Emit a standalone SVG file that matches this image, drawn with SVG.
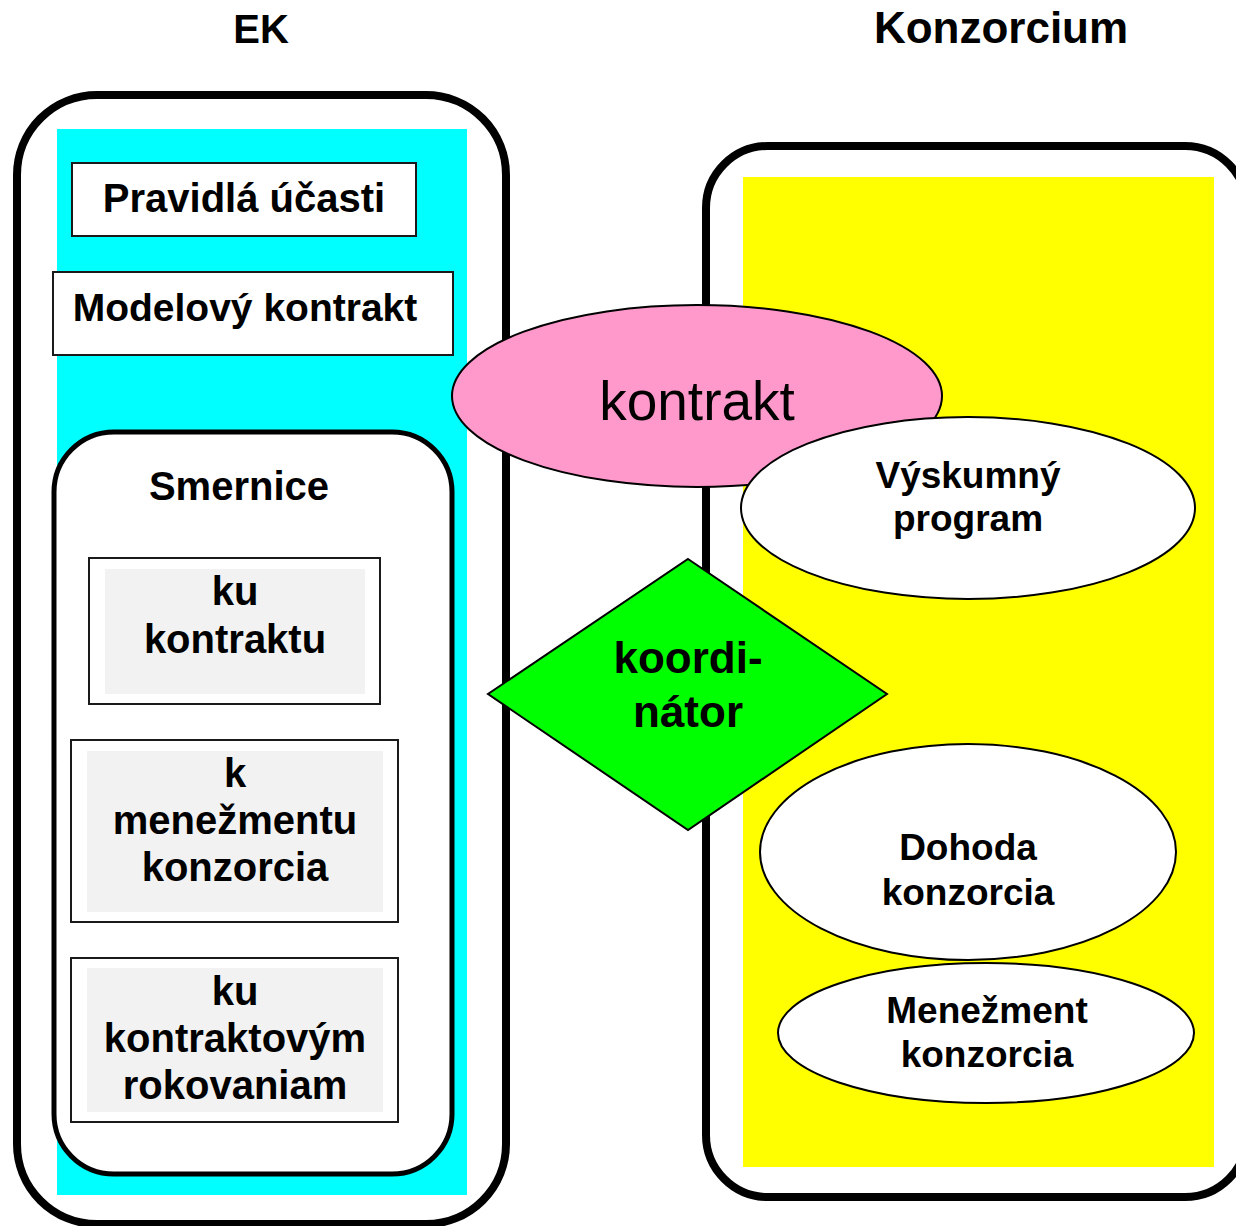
<svg xmlns="http://www.w3.org/2000/svg" width="1236" height="1226" viewBox="0 0 1236 1226">
<style>
text{font-family:"Liberation Sans",Arial,sans-serif;fill:#000;text-anchor:middle}
.b{font-weight:bold}
.t40{font-size:40px}
.t37{font-size:37px}
.t44{font-size:44px}
.cont{fill:#fff;stroke:#000;stroke-width:8}
.box{fill:#fff;stroke:#1a1a1a;stroke-width:2}
.inner{fill:#f2f2f2}
.ell{stroke:#000;stroke-width:2}
</style>
<rect width="1236" height="1226" fill="#fff"/>
<g id="title-ek"><text class="b t40" x="261" y="43">EK</text></g>
<g id="title-konzorcium"><text class="b t44" x="1001" y="43">Konzorcium</text></g>

<g id="ek">
<rect class="cont" x="17" y="95" width="489" height="1129" rx="80"/>
<rect x="57" y="129" width="410" height="1066" fill="#00ffff"/>
</g>
<g id="pravidla">
<rect class="box" x="72" y="163" width="344" height="73"/>
<text class="b t40" x="244" y="212">Pravidlá účasti</text>
</g>
<g id="modelovy">
<rect class="box" x="53" y="272" width="400" height="83"/>
<text class="b" font-size="39" x="245" y="321">Modelový kontrakt</text>
</g>
<g id="smernice">
<rect fill="#fff" stroke="#000" stroke-width="5" x="54" y="432" width="398" height="742" rx="60"/>
<text class="b t40" x="239" y="500">Smernice</text>
</g>
<g id="ku-kontraktu">
<rect class="box" x="89" y="558" width="291" height="146"/>
<rect class="inner" x="105" y="569" width="260" height="125"/>
<text class="b t40" x="235" y="605">ku<tspan x="235" dy="48">kontraktu</tspan></text>
</g>
<g id="k-menezmentu">
<rect class="box" x="71" y="740" width="327" height="182"/>
<rect class="inner" x="87" y="751" width="296" height="161"/>
<text class="b t40" x="235" y="787">k<tspan x="235" dy="47">menežmentu</tspan><tspan x="235" dy="47">konzorcia</tspan></text>
</g>
<g id="ku-rokovaniam">
<rect class="box" x="71" y="958" width="327" height="164"/>
<rect class="inner" x="87" y="968" width="296" height="144"/>
<text class="b t40" x="235" y="1005">ku<tspan x="235" dy="47">kontraktovým</tspan><tspan x="235" dy="47">rokovaniam</tspan></text>
</g>

<g id="konzorcium">
<rect class="cont" x="706" y="146" width="541" height="1051" rx="62"/>
<rect x="743" y="177" width="471" height="990" fill="#ffff00"/>
</g>

<g id="connectors"></g>

<g id="kontrakt">
<ellipse class="ell" cx="697" cy="396" rx="245" ry="91" fill="#ff99cc"/>
<text x="697" y="420" font-size="55">kontrakt</text>
</g>
<g id="vyskumny-program">
<ellipse class="ell" cx="968" cy="508" rx="227" ry="91" fill="#fff"/>
<text class="b t37" x="968" y="488">Výskumný<tspan x="968" dy="43">program</tspan></text>
</g>
<g id="koordinator">
<polygon points="688,559 887,694 688,830 488,694" fill="#00ff00" stroke="#000" stroke-width="2"/>
<text class="b t44" x="688" y="673">koordi-<tspan x="688" dy="54">nátor</tspan></text>
</g>
<g id="dohoda">
<ellipse class="ell" cx="968" cy="852" rx="208" ry="108" fill="#fff"/>
<text class="b t37" x="968" y="860">Dohoda<tspan x="968" dy="45">konzorcia</tspan></text>
</g>
<g id="menezment">
<ellipse class="ell" cx="986" cy="1033" rx="208" ry="70" fill="#fff"/>
<text class="b t37" x="987" y="1023">Menežment<tspan x="987" dy="44">konzorcia</tspan></text>
</g>
</svg>
